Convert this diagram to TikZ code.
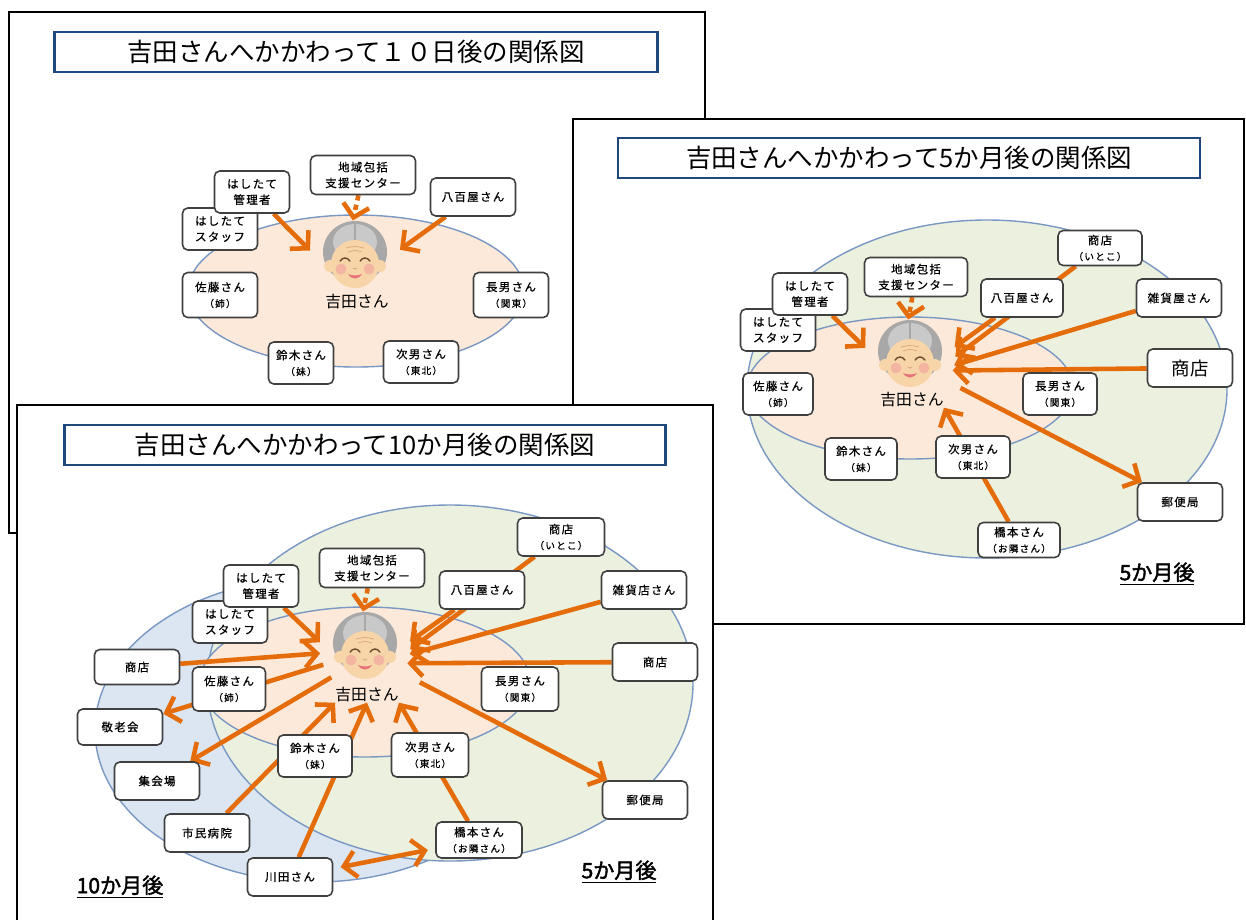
\documentclass[tikz,border=0pt]{standalone}
\usepackage{fontspec}
\setmainfont{Noto Sans CJK JP}[AutoFakeBold=2]
\newfontfamily\boxfont{Noto Sans CJK JP}[LetterSpace=12,FakeBold=0.8]
\usetikzlibrary{arrows.meta}

\definecolor{arrowor}{HTML}{E46C0A}
\definecolor{boxgray}{HTML}{404040}
\definecolor{titleblue}{HTML}{1F497D}
\definecolor{ringblue}{HTML}{7A98C4}
\definecolor{peach}{HTML}{FDE9D9}
\definecolor{leaf}{HTML}{EBF1DE}
\definecolor{sky}{HTML}{DCE6F2}
\definecolor{hairgray}{HTML}{A8A8A8}
\definecolor{hairlight}{HTML}{C9C9C9}
\definecolor{skin}{HTML}{F7D5A8}
\definecolor{skindark}{HTML}{D9A877}
\definecolor{cheek}{HTML}{F4A7A0}
\definecolor{lips}{HTML}{E8707A}
\definecolor{lash}{HTML}{6B4A2E}

\pgfdeclarelayer{back}
\pgfdeclarelayer{links}
\pgfsetlayers{back,links,main}

\newcommand{\subnote}[1]{{\fontsize{5.5}{9}\selectfont #1}}
% smiling grandmother, drawn around #1
\newcommand{\granny}[1]{%
  \begin{scope}[shift={#1}]
    \fill[hairgray] (0,-4) ellipse (32 and 31);
    \fill[hairlight] (0,-14) ellipse (22 and 18);
    \fill[skin] (-25,10) circle (6) (25,10) circle (6);
    \fill[skin] (0,8) ellipse (24 and 24);
    \draw[hairgray, line width=0.6pt] (0,-34) -- (0,-16);
    \draw[skindark, line width=0.4pt] (-9,-8) .. controls (0,-10) .. (9,-8)
      (-7,-4) .. controls (0,-6) .. (7,-4);
    \fill[cheek, opacity=0.7] (-14,13) circle (5.5) (14,13) circle (5.5);
    \draw[lash, line width=0.8pt, line cap=round]
      (-15,5) .. controls (-12,1) and (-8,1) .. (-5,5)
      (5,5) .. controls (8,1) and (12,1) .. (15,5);
    \draw[skindark, line width=0.5pt] (-2,12) .. controls (0,13.5) .. (2,12);
    \fill[lips] (-7,18) .. controls (-3,24) and (3,24) .. (7,18)
      .. controls (3,20) and (-3,20) .. cycle;
  \end{scope}}

\begin{document}
\begin{tikzpicture}[x=0.02cm,y=-0.02cm,>={Straight Barb[length=7pt,width=15pt]},
  slide/.style={draw=black,line width=1.1pt},
  ring/.style={draw=ringblue,line width=0.8pt},
  titlebox/.style={draw=titleblue,line width=1.3pt,fill=white,minimum height=0.8cm,
    font=\fontsize{14.5}{16}\selectfont},
  pbox/.style={draw=boxgray,fill=white,rounded corners=3pt,line width=0.9pt,align=center,
    inner sep=1pt,minimum width=1.5cm,minimum height=0.84cm,
    font=\boxfont\fontsize{6.5}{9}\selectfont},
  sbox/.style={pbox,minimum width=1.7cm,minimum height=0.76cm},
  cbox/.style={pbox,minimum width=2.1cm,minimum height=0.78cm},
  tgt/.style={circle,minimum size=1.8cm,inner sep=0pt},
  yname/.style={inner sep=0pt,font=\fontsize{9}{10}\selectfont},
  period/.style={font=\bfseries\fontsize{12}{13}\selectfont},
  arr/.style={->,draw=arrowor,line width=2.6pt},
  hintarr/.style={arr,dash pattern=on 3pt off 2.5pt,shorten >=-0.2cm}]
\useasboundingbox (0,0) rectangle (1246,919);

\begin{pgfonlayer}{back}
% slides
\draw[slide,fill=white] (9,12) rectangle (705,533);
\draw[slide,fill=white] (573,119) rectangle (1244,624);
\fill[white] (17,405) rectangle (713,925);
\draw[slide] (17,925) |- (713,405) -- (713,925);
% circles of support
\draw[ring,fill=peach] (356,291) ellipse (168 and 76);
\draw[ring,fill=leaf] (987,389) ellipse (240 and 169);
\draw[ring,fill=peach] (910,388) ellipse (163 and 71);
\draw[ring,fill=sky] (315,730) ellipse (220 and 152);
\draw[ring,fill=leaf] (450,683) ellipse (243 and 178);
\draw[ring,fill=peach] (365,682) ellipse (165 and 75);
\end{pgfonlayer}

% 10 days
\node[titlebox,minimum width=12.06cm] (titleA) at (356,52) {吉田さんへかかわって１０日後の関係図};
\granny{(355,256)}
\node[tgt] (faceA) at (355,256) {};
\node[yname] (nameA) at (357,302) {吉田さん};
\node[pbox] (staffA) at (220,229) {はしたて\\スタッフ};
\node[pbox] (kanriA) at (252,192) {はしたて\\管理者};
\node[cbox] (chiikiA) at (363,175) {地域包括\\支援センター};
\node[sbox] (yaoyaA) at (473,197) {八百屋さん};
\node[pbox,minimum height=0.9cm] (satoA) at (220,295) {佐藤さん\\\subnote{（姉）}};
\node[pbox,minimum height=0.9cm] (choA) at (511,295) {長男さん\\\subnote{（関東）}};
\node[pbox,minimum width=1.3cm] (suzukiA) at (301,363) {鈴木さん\\\subnote{（妹）}};
\node[pbox] (jiroA) at (421,362) {次男さん\\\subnote{（東北）}};

% 5 months
\node[titlebox,minimum width=11.64cm] (titleB) at (909,158) {吉田さんへかかわって5か月後の関係図};
\granny{(910,355)}
\node[tgt] (faceB) at (910,355) {};
\node[yname] (nameB) at (912,400) {吉田さん};
\node[pbox,minimum width=1.68cm,minimum height=0.7cm] (itokoB) at (1100,248) {商店\\\subnote{（いとこ）}};
\node[cbox,minimum width=2.06cm] (chiikiB) at (916,277) {地域包括\\支援センター};
\node[pbox] (staffB) at (778,330) {はしたて\\スタッフ};
\node[pbox] (kanriB) at (810,294) {はしたて\\管理者};
\node[sbox,minimum width=1.64cm] (yaoyaB) at (1022,298) {八百屋さん};
\node[sbox] (zakkaB) at (1179,298) {雑貨屋さん};
\node[sbox,font=\fontsize{10.5}{12}\selectfont] (shopB) at (1190,368) {商店};
\node[pbox,minimum width=1.48cm] (choB) at (1060,394) {長男さん\\\subnote{（関東）}};
\node[pbox,minimum width=1.4cm] (satoB) at (778,394) {佐藤さん\\\subnote{（姉）}};
\node[pbox,minimum width=1.44cm] (suzukiB) at (861,459) {鈴木さん\\\subnote{（妹）}};
\node[pbox,minimum width=1.48cm] (jiroB) at (973,457) {次男さん\\\subnote{（東北）}};
\node[sbox] (yubinB) at (1180,502) {郵便局};
\node[pbox,minimum width=1.64cm,minimum height=0.7cm] (hashiB) at (1019,540) {橋本さん\\\subnote{（お隣さん）}};
\node[period] (fiveB) at (1157,574) {\underline{5か月後}};

% 10 months
\node[titlebox,minimum width=12.02cm] (titleC) at (365,445) {吉田さんへかかわって10か月後の関係図};
\granny{(365,647)}
\node[tgt] (faceC) at (365,647) {};
\node[yname] (nameC) at (367,695) {吉田さん};
\node[pbox] (staffC) at (230,622) {はしたて\\スタッフ};
\node[pbox] (kanriC) at (261,586) {はしたて\\管理者};
\node[cbox] (chiikiC) at (372,568) {地域包括\\支援センター};
\node[sbox,minimum height=0.7cm] (shopLC) at (137,667) {商店};
\node[pbox,minimum width=1.46cm,minimum height=0.88cm] (satoC) at (229,689) {佐藤さん\\\subnote{（姉）}};
\node[sbox,minimum height=0.72cm] (keiroC) at (120,727) {敬老会};
\node[sbox] (shukaiC) at (157,781) {集会場};
\node[pbox,minimum width=1.48cm] (suzukiC) at (315,756) {鈴木さん\\\subnote{（妹）}};
\node[sbox] (shiminC) at (207,833) {市民病院};
\node[sbox] (kawadaC) at (290,877) {川田さん};
\node[pbox,minimum width=1.74cm,minimum height=0.76cm] (itokoC) at (561,537) {商店\\\subnote{（いとこ）}};
\node[sbox] (yaoyaC) at (482,590) {八百屋さん};
\node[sbox] (zakkaC) at (644,590) {雑貨店さん};
\node[sbox] (shopRC) at (655,662) {商店};
\node[pbox,minimum width=1.54cm,minimum height=0.88cm] (choC) at (520,689) {長男さん\\\subnote{（関東）}};
\node[pbox,minimum width=1.54cm,minimum height=0.88cm] (jiroC) at (430,755) {次男さん\\\subnote{（東北）}};
\node[sbox] (yubinC) at (645,800) {郵便局};
\node[pbox,minimum width=1.72cm,minimum height=0.72cm] (hashiC) at (479,840) {橋本さん\\\subnote{（お隣さん）}};
\node[period] (fiveC) at (619,872) {\underline{5か月後}};
\node[period] (tenC) at (120,887) {\underline{10か月後}};

\begin{pgfonlayer}{links}
% links, 10 days
\draw[arr] (kanriA) -- (faceA.173);
\draw[hintarr] (chiikiA) -- (faceA.north);
\draw[arr] (yaoyaA) -- (faceA.8);
% links, 5 months
\draw[arr] (kanriB) -- (faceB.171);
\draw[hintarr] (chiikiB) -- (faceB.north);
\draw[arr] (yaoyaB) -- (faceB.10);
\draw[arr] (itokoB) -- (faceB.-2);
\draw[arr] (zakkaB) -- (faceB.-13);
\draw[arr] (shopB) -- (faceB.-20);
\draw[arr,shorten <=0.3cm] (faceB.-35) -- (yubinB);
\draw[arr] (hashiB) -- (nameB.south east);
% links, 10 months
\draw[arr] (kanriC) -- (faceC.174);
\draw[hintarr] (chiikiC) -- (faceC.north);
\draw[arr] (yaoyaC) -- (faceC.7);
\draw[arr] (itokoC) -- (faceC.-3);
\draw[arr] (zakkaC) -- (faceC.-9);
\draw[arr] (shopRC) -- (faceC.-21);
\draw[arr] (shopLC) -- (faceC.188);
\draw[arr] (faceC.203) -- (keiroC);
\draw[arr] (faceC.222) -- (shukaiC);
\draw[arr] (shiminC) -- (nameC.south west);
\draw[arr] (kawadaC) -- (nameC.south);
\draw[arr] (hashiC) -- (nameC.south east);
\draw[arr,<->,shorten <=0.15cm,shorten >=0.15cm] (kawadaC) -- (hashiC);
\draw[arr,shorten <=0.4cm] (faceC.-35) -- (yubinC);
\end{pgfonlayer}
\end{tikzpicture}
\end{document}
